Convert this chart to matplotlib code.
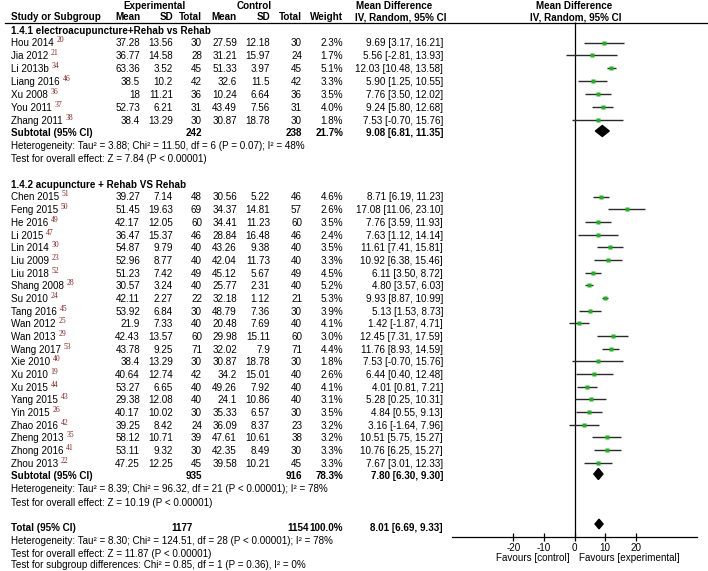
import matplotlib
matplotlib.use("Agg")
import matplotlib.pyplot as plt
from matplotlib.patches import Polygon

# ---- data ----
names1 = ["Hou 2014", "Jia 2012", "Li 2013b", "Liang 2016", "Xu 2008", "You 2011", "Zhang 2011"]
refs1 = ["20", "21", "34", "46", "36", "37", "38"]
exp_mean1 = [37.28, 36.77, 63.36, 38.5, 18, 52.73, 38.4]
exp_sd1 = [13.56, 14.58, 3.52, 10.2, 11.21, 6.21, 13.29]
exp_n1 = [30, 28, 45, 42, 36, 31, 30]
ctl_mean1 = [27.59, 31.21, 51.33, 32.6, 10.24, 43.49, 30.87]
ctl_sd1 = [12.18, 15.97, 3.97, 11.5, 6.64, 7.56, 18.78]
ctl_n1 = [30, 24, 45, 42, 36, 31, 30]
weight1 = [2.3, 1.7, 5.1, 3.3, 3.5, 4.0, 1.8]
md1 = [9.69, 5.56, 12.03, 5.90, 7.76, 9.24, 7.53]
lo1 = [3.17, -2.81, 10.48, 1.25, 3.50, 5.80, -0.70]
hi1 = [16.21, 13.93, 13.58, 10.55, 12.02, 12.68, 15.76]

names2 = ["Chen 2015", "Feng 2015", "He 2016", "Li 2015", "Lin 2014", "Liu 2009", "Liu 2018",
          "Shang 2008", "Su 2010", "Tang 2016", "Wan 2012", "Wan 2013", "Wang 2017", "Xie 2010",
          "Xu 2010", "Xu 2015", "Yang 2015", "Yin 2015", "Zhao 2016", "Zheng 2013", "Zhong 2016",
          "Zhou 2013"]
refs2 = ["51", "50", "49", "47", "30", "23", "52", "28", "24", "45", "25", "29", "53", "40",
         "19", "44", "43", "26", "42", "35", "41", "22"]
exp_mean2 = [39.27, 51.45, 42.17, 36.47, 54.87, 52.96, 51.23, 30.57, 42.11, 53.92, 21.9, 42.43,
             43.78, 38.4, 40.64, 53.27, 29.38, 40.17, 39.25, 58.12, 53.11, 47.25]
exp_sd2 = [7.14, 19.63, 12.05, 15.37, 9.79, 8.77, 7.42, 3.24, 2.27, 6.84, 7.33, 13.57, 9.25,
           13.29, 12.74, 6.65, 12.08, 10.02, 8.42, 10.71, 9.32, 12.25]
exp_n2 = [48, 69, 60, 46, 40, 40, 49, 40, 22, 30, 40, 60, 71, 30, 42, 40, 40, 30, 24, 39, 30, 45]
ctl_mean2 = [30.56, 34.37, 34.41, 28.84, 43.26, 42.04, 45.12, 25.77, 32.18, 48.79, 20.48, 29.98,
             32.02, 30.87, 34.2, 49.26, 24.1, 35.33, 36.09, 47.61, 42.35, 39.58]
ctl_sd2 = [5.22, 14.81, 11.23, 16.48, 9.38, 11.73, 5.67, 2.31, 1.12, 7.36, 7.69, 15.11, 7.9,
           18.78, 15.01, 7.92, 10.86, 6.57, 8.37, 10.61, 8.49, 10.21]
ctl_n2 = [46, 57, 60, 46, 40, 40, 49, 40, 21, 30, 40, 60, 71, 30, 40, 40, 40, 30, 23, 38, 30, 45]
weight2 = [4.6, 2.6, 3.5, 2.4, 3.5, 3.3, 4.5, 5.2, 5.3, 3.9, 4.1, 3.0, 4.4, 1.8, 2.6, 4.1, 3.1,
           3.5, 3.2, 3.2, 3.3, 3.3]
md2 = [8.71, 17.08, 7.76, 7.63, 11.61, 10.92, 6.11, 4.80, 9.93, 5.13, 1.42, 12.45, 11.76, 7.53,
       6.44, 4.01, 5.28, 4.84, 3.16, 10.51, 10.76, 7.67]
lo2 = [6.19, 11.06, 3.59, 1.12, 7.41, 6.38, 3.50, 3.57, 8.87, 1.53, -1.87, 7.31, 8.93, -0.70,
       0.40, 0.81, 0.25, 0.55, -1.64, 5.75, 6.25, 3.01]
hi2 = [11.23, 23.10, 11.93, 14.14, 15.81, 15.46, 8.72, 6.03, 10.99, 8.73, 4.71, 17.59, 14.59,
       15.76, 12.48, 7.21, 10.31, 9.13, 7.96, 15.27, 15.27, 12.33]

# pooled results: (md, lo, hi, n_exp, n_ctl, weight)
sub1 = (9.08, 6.81, 11.35, 242, 238, 21.7)
sub2 = (7.80, 6.30, 9.30, 935, 916, 78.3)
total = (8.01, 6.69, 9.33, 1177, 1154, 100.0)

het1 = "Heterogeneity: Tau² = 3.88; Chi² = 11.50, df = 6 (P = 0.07); I² = 48%"
eff1 = "Test for overall effect: Z = 7.84 (P < 0.00001)"
het2 = "Heterogeneity: Tau² = 8.39; Chi² = 96.32, df = 21 (P < 0.00001); I² = 78%"
eff2 = "Test for overall effect: Z = 10.19 (P < 0.00001)"
het_t = "Heterogeneity: Tau² = 8.30; Chi² = 124.51, df = 28 (P < 0.00001); I² = 78%"
eff_t = "Test for overall effect: Z = 11.87 (P < 0.00001)"
sub_diff = "Test for subgroup differences: Chi² = 0.85, df = 1 (P = 0.36), I² = 0%"

xticks = [-20, -10, 0, 10, 20]

# ---- layout (pixel units) ----
W, H = 708, 571
FS = 7.1
plt.rcParams['font.family'] = ['Liberation Sans', 'DejaVu Sans']

fig = plt.figure(figsize=(W / 100, H / 100), dpi=100)
ax = fig.add_axes([0, 0, 1, 1])
ax.set_xlim(0, W)
ax.set_ylim(H, 0)
ax.axis('off')

axis_y = 537
axf = fig.add_axes([452 / W, (H - axis_y) / H, 245 / W, axis_y / H])
axf.set_xlim(-40, 40)
axf.set_ylim(axis_y, 0)
axf.set_facecolor('none')
for s in ['top', 'left', 'right']:
    axf.spines[s].set_visible(False)
axf.spines['bottom'].set_linewidth(0.9)
axf.set_yticks([])
axf.set_xticks(xticks)
axf.set_xticklabels([str(t) for t in xticks])
axf.tick_params(axis='x', direction='inout', length=6, width=0.9, labelsize=FS, pad=1)
axf.vlines(0, 22, axis_y, color='black', lw=0.9)

# column right edges
cx = dict(em=140, esd=173, en=202, cm=237, csd=270, cn=302, w=343, ci=443)


def txt(x, y, s, ha='left', bold=False, **kw):
    return ax.text(x, y, s, ha=ha, va='center', fontsize=FS,
                   fontweight='bold' if bold else 'normal', **kw)


# headers
txt(155, 6, "Experimental", ha='center', bold=True)
txt(254, 6, "Control", ha='center', bold=True)
txt(356, 6, "Mean Difference", bold=True)
txt(574, 6, "Mean Difference", ha='center', bold=True)
txt(11, 17, "Study or Subgroup", bold=True)
for key, lab in [('em', 'Mean'), ('esd', 'SD'), ('en', 'Total'), ('cm', 'Mean'),
                 ('csd', 'SD'), ('cn', 'Total'), ('w', 'Weight')]:
    txt(cx[key], 17, lab, ha='right', bold=True)
txt(355, 17, "IV, Random, 95% CI", bold=True)
txt(576, 17, "IV, Random, 95% CI", ha='center', bold=True)
ax.plot([5, W], [22.5, 22.5], color='black', lw=0.9)


def study_rows(ys, names, refs, em, esd, en, cm, csd, cn, w, md, lo, hi):
    for i, y in enumerate(ys):
        t = txt(11, y, names[i])
        ax.annotate(refs[i], xy=(1, 0.8), xycoords=t, xytext=(2, 0), textcoords='offset points',
                    fontsize=5.5, family='Liberation Serif', color='#8b2323', va='center')
        txt(cx['em'], y, f"{em[i]:g}", ha='right')
        txt(cx['esd'], y, f"{esd[i]:g}", ha='right')
        txt(cx['en'], y, str(en[i]), ha='right')
        txt(cx['cm'], y, f"{cm[i]:g}", ha='right')
        txt(cx['csd'], y, f"{csd[i]:g}", ha='right')
        txt(cx['cn'], y, str(cn[i]), ha='right')
        txt(cx['w'], y, f"{w[i]:.1f}%", ha='right')
        txt(cx['ci'], y, f"{md[i]:.2f} [{lo[i]:.2f}, {hi[i]:.2f}]", ha='right')
        axf.plot([lo[i], hi[i]], [y - 1, y - 1], color='#2a2a2a', lw=1.0, solid_capstyle='butt',
                 zorder=2)
        axf.plot(md[i], y - 1, 's', color='#1fb41f', ms=2.3 + 0.2 * w[i], mec='none', zorder=3)


def diamond(y, res, half=5.5):
    m, l, h = res[0], res[1], res[2]
    axf.add_patch(Polygon([[l, y], [m, y - half], [h, y], [m, y + half]], closed=True,
                          color='black'))


def pooled_row(y, label, res, xn_e=None, xn_c=None):
    txt(11, y, label, bold=True)
    txt(xn_e or cx['en'], y, str(res[3]), ha='right', bold=True)
    txt(xn_c or cx['cn'], y, str(res[4]), ha='right', bold=True)
    txt(cx['w'], y, f"{res[5]:.1f}%", ha='right', bold=True)
    txt(cx['ci'], y, f"{res[0]:.2f} [{res[1]:.2f}, {res[2]:.2f}]", ha='right', bold=True)


# subgroup 1
txt(11, 31, "1.4.1 electroacupuncture+Rehab vs Rehab", bold=True)
ys1 = [43.5 + 12.85 * i for i in range(len(names1))]
study_rows(ys1, names1, refs1, exp_mean1, exp_sd1, exp_n1, ctl_mean1, ctl_sd1, ctl_n1,
           weight1, md1, lo1, hi1)
pooled_row(133, "Subtotal (95% CI)", sub1)
diamond(131, sub1)
txt(11, 146, het1)
txt(11, 159.5, eff1)

# subgroup 2
txt(11, 185, "1.4.2 acupuncture + Rehab VS Rehab", bold=True)
ys2 = [197.5 + 12.67 * i for i in range(len(names2))]
study_rows(ys2, names2, refs2, exp_mean2, exp_sd2, exp_n2, ctl_mean2, ctl_sd2, ctl_n2,
           weight2, md2, lo2, hi2)
pooled_row(476, "Subtotal (95% CI)", sub2)
diamond(474, sub2)
txt(11, 489.5, het2)
txt(11, 503, eff2)

# overall
pooled_row(528, "Total (95% CI)", total, xn_e=193, xn_c=309)
diamond(524, total, half=4.8)
txt(11, 541, het_t)
txt(11, 554, eff_t)
txt(11, 565.5, sub_diff)

txt(570, 558, "Favours [control]", ha='right')
txt(579, 558, "Favours [experimental]")

fig.savefig("out.png", dpi=100)
